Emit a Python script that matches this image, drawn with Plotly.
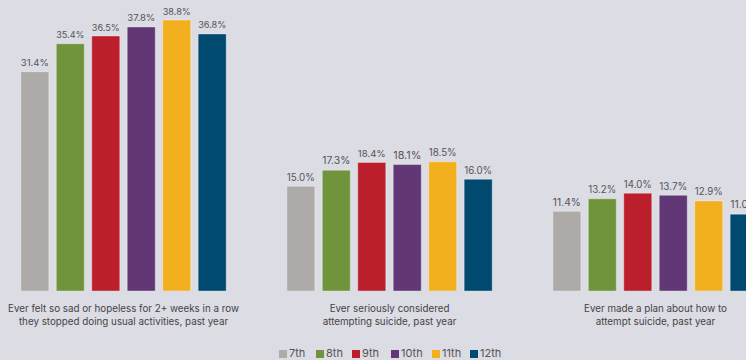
import plotly.graph_objects as go

categories = [
    "Ever felt so sad or hopeless for 2+ weeks in a row<br>they stopped doing usual activities, past year",
    "Ever seriously considered<br>attempting suicide, past year",
    "Ever made a plan about how to<br>attempt suicide, past year",
]
grades = ["7th", "8th", "9th", "10th", "11th", "12th"]
values = {
    "7th": [31.4, 15.0, 11.4],
    "8th": [35.4, 17.3, 13.2],
    "9th": [36.5, 18.4, 14.0],
    "10th": [37.8, 18.1, 13.7],
    "11th": [38.8, 18.5, 12.9],
    "12th": [36.8, 16.0, 11.0],
}
colors = {
    "7th": "#aeaaa8",
    "8th": "#70943c",
    "9th": "#bb1f2b",
    "10th": "#613875",
    "11th": "#f2b01e",
    "12th": "#00496f",
}

W, H = 746, 360
MB = 69  # bottom margin in px
PH = H - MB  # plot height in px

fig = go.Figure()
for g in grades:
    fig.add_trace(go.Bar(
        name=g,
        x=categories,
        y=values[g],
        marker=dict(color=colors[g], line=dict(color="rgba(255,255,255,0.35)", width=1)),
        text=[f"{v:.1f}%" for v in values[g]],
        textposition="outside",
        textfont=dict(size=11, color="#555555", family="Inter"),
        cliponaxis=False,
        hoverinfo="skip",
        showlegend=False,
    ))

# compact custom legend: small square swatch + label
legend_px = [279, 316, 352, 391, 432, 470]
legend_cy = 353
sq = 8
shapes, annotations = [], []
for g, px in zip(grades, legend_px):
    shapes.append(dict(
        type="rect", xref="paper", yref="paper",
        x0=px / W, x1=(px + sq) / W,
        y0=(PH - (legend_cy + 1 + sq / 2)) / PH, y1=(PH - (legend_cy + 1 - sq / 2)) / PH,
        fillcolor=colors[g], line=dict(width=0),
    ))
    annotations.append(dict(
        xref="paper", yref="paper",
        x=(px + sq) / W, y=(PH - legend_cy) / PH,
        xanchor="left", yanchor="middle",
        text=g, showarrow=False,
        font=dict(size=11, color="#555555", family="Inter"),
    ))

fig.update_layout(
    width=W,
    height=H,
    margin=dict(l=0, r=0, t=0, b=MB),
    paper_bgcolor="#dcdce4",
    plot_bgcolor="#dcdce4",
    barmode="group",
    bargap=0.2,
    bargroupgap=0.21,
    font=dict(family="Inter", color="#444444"),
    showlegend=False,
    shapes=shapes,
    annotations=annotations,
    xaxis=dict(
        range=[-0.4643, 2.3402],
        showgrid=False,
        showline=False,
        zeroline=False,
        ticks="",
        automargin=False,
        ticklabelstandoff=10,
        tickfont=dict(size=9.8, color="#444444", family="Inter"),
    ),
    yaxis=dict(
        range=[0, 41.66],
        visible=False,
        showgrid=False,
        automargin=False,
    ),
)

fig.write_html("out.html")
